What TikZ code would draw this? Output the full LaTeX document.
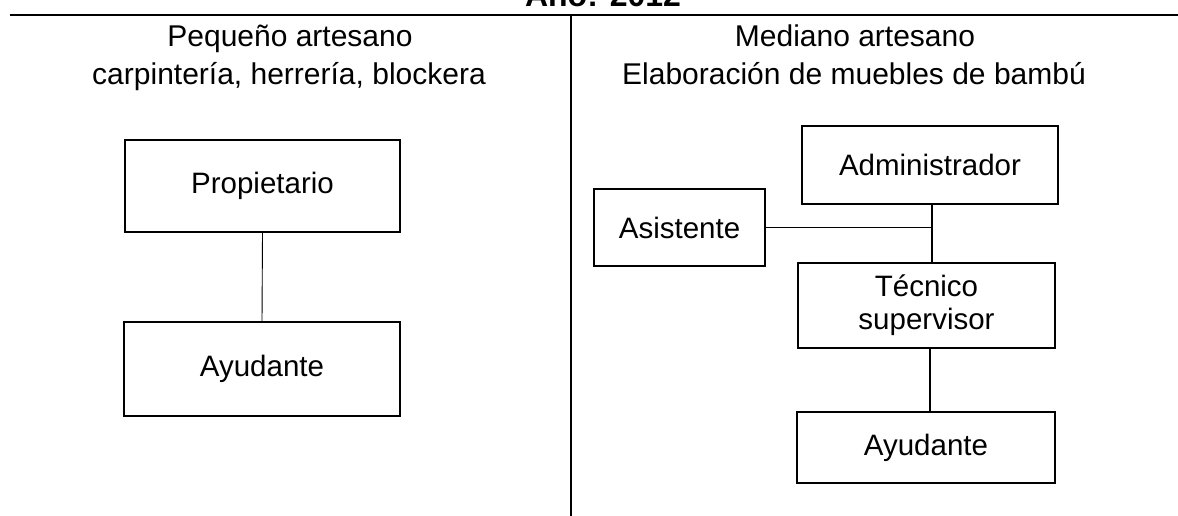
\documentclass[tikz,border=0pt]{standalone}
\usepackage{fontspec}
\setmainfont{Liberation Sans}
\begin{document}
\begin{tikzpicture}[x=1pt,y=-1pt,
  txt/.style={font=\fontsize{30}{33}\selectfont, inner sep=0pt, anchor=base},
  orgbox/.style={draw, line width=1.5pt, rectangle, inner sep=0pt, align=center,
    font=\fontsize{29.5}{33}\selectfont},
  conn/.style={line width=1.4pt},
  thinconn/.style={line width=0.9pt}]
\useasboundingbox (0,0) rectangle (1178,516);
% title (cut at top, as in the reference)
\node[inner sep=0pt, anchor=base, font=\fontsize{32}{36}\selectfont\bfseries] (title) at (603,7) {Año: 2012};
% frame lines
\coordinate (tl) at (10,15.5);
\coordinate (tr) at (1178,15.5);
\coordinate (dtop) at (571,15.5);
\coordinate (dbot) at (571,516);
\draw[line width=2pt] (tl) -- (tr);
\draw[line width=1.2pt] (dtop) -- (dbot);
% headers
\node[txt] (h1) at (290,47) {Pequeño artesano};
\node[txt] (h2) at (289,85) {carpintería, herrería, blockera};
\node[txt] (h3) at (855,47) {Mediano artesano};
\node[txt] (h4) at (854,85) {Elaboración de muebles de bambú};
% left chart
\node[orgbox, minimum width=275pt, minimum height=92pt] (prop) at (262.5,186) {Propietario};
\node[orgbox, minimum width=276pt, minimum height=94pt] (ayu1) at (262,369) {Ayudante};
\draw[thinconn] (prop.south) -- (ayu1.north);
% right chart
\node[orgbox, minimum width=256pt, minimum height=78pt] (admin) at (930,165) {Administrador};
\node[orgbox, minimum width=171pt, minimum height=77pt] (asis) at (679.5,227.5) {Asistente};
\node[orgbox, minimum width=257pt, minimum height=85pt] (tec) at (926.5,305.5) {Técnico\\supervisor};
\node[orgbox, minimum width=258pt, minimum height=71pt] (ayu2) at (926,447.5) {Ayudante};
\coordinate (j) at (932,227.5);
\draw[conn] (admin.south -| j) -- (tec.north -| j);
\draw[conn] (asis.east) -- (j);
\draw[conn] (tec.south -| 930,0) -- (ayu2.north -| 930,0);
\end{tikzpicture}
\end{document}
